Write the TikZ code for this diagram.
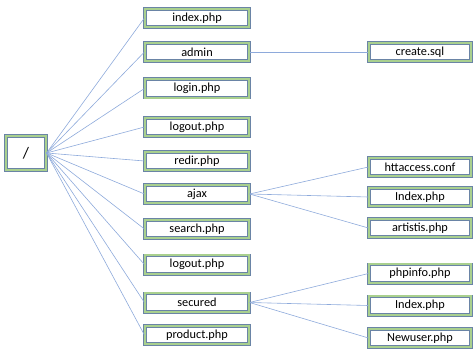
\documentclass[tikz,border=0pt]{standalone}
\usepackage{fontspec}
\setmainfont{Carlito}
\definecolor{bordc}{HTML}{6A84A6}
\definecolor{bandc}{HTML}{A9D08E}
\definecolor{linec}{HTML}{8EAADB}
\begin{document}
\begin{tikzpicture}[x=1pt,y=-1pt,
  fbox/.style={draw=bordc,line width=0.7pt,double=bandc,double distance=2.2pt,fill=white,
    rectangle,inner sep=0pt,font=\fontsize{12.3}{14}\selectfont,anchor=center},
  mid/.style={fbox,minimum width=104.4pt,minimum height=18.4pt},
  rgt/.style={fbox,minimum width=102.4pt,minimum height=18.4pt},
  conn/.style={draw=linec,line width=0.6pt}]
\useasboundingbox (0,0) rectangle (474,350);
\node[fbox,minimum width=40.4pt,minimum height=34.4pt,font=\fontsize{16}{18}\selectfont] (root) at (26,153) {/};
\node[mid] (index) at (197,18) {index.php};
\node[mid] (admin) at (197,52) {admin};
\node[mid] (login) at (197,88.5) {login.php};
\node[mid] (logout) at (197,127) {logout.php};
\node[mid] (redir) at (197,161) {redir.php};
\node[mid] (ajax) at (197,194) {ajax};
\node[mid] (search) at (197,229) {search.php};
\node[mid] (logoutb) at (197,264.5) {logout.php};
\node[mid] (secured) at (197,302.5) {secured};
\node[mid] (product) at (197,335) {product.php};
\node[rgt] (create) at (420,52) {create.sql};
\node[rgt] (htaccess) at (420,167) {httaccess.conf};
\node[rgt] (aindex) at (420,197) {Index.php};
\node[rgt] (artistis) at (420,228) {artistis.php};
\node[rgt] (phpinfo) at (420,273.5) {phpinfo.php};
\node[rgt] (sindex) at (420,305.5) {Index.php};
\node[rgt] (newuser) at (420,338) {Newuser.php};
\foreach \n in {index,admin,login,logout,redir,ajax,search,logoutb,secured,product}
  \draw[conn] (root.east) -- (\n.west);
\draw[conn] (admin.east) -- (create.west);
\foreach \n in {htaccess,aindex,artistis}
  \draw[conn] (ajax.east) -- (\n.west);
\foreach \n in {phpinfo,sindex,newuser}
  \draw[conn] (secured.east) -- (\n.west);
\end{tikzpicture}
\end{document}
